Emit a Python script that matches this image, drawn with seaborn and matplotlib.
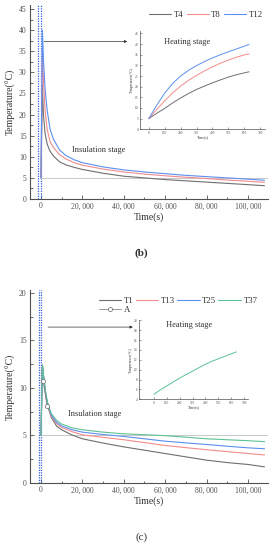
import matplotlib
matplotlib.use("Agg")
import matplotlib.pyplot as plt
import seaborn as sns
from matplotlib.ticker import FuncFormatter, MultipleLocator, FixedLocator
from matplotlib.lines import Line2D

sns.set_theme(style="white")
plt.rcParams['font.family'] = ['Liberation Serif', 'DejaVu Serif']

# ---------------- panel (b) data ----------------
time_b = [0, 700, 1200, 2000, 3000, 4400, 6000, 9000, 12000, 16000, 20000,
          30000, 40000, 50000, 60000, 70000, 80000, 90000, 100000, 108000]
t4 = [5, 27, 20, 15.5, 13, 11.3, 10.2, 8.8, 8.1, 7.5, 7.0,
      6.1, 5.4, 5.0, 4.6, 4.3, 4.0, 3.7, 3.4, 3.15]
t8 = [5, 35.5, 28, 21, 16.5, 13.6, 12.2, 10.5, 9.5, 8.6, 8.0,
      7.1, 6.4, 5.9, 5.5, 5.15, 4.85, 4.5, 4.2, 3.95]
t12 = [5, 40, 33, 26, 21, 16.5, 14.2, 11.6, 10.3, 9.3, 8.6,
       7.6, 6.9, 6.4, 6.0, 5.6, 5.3, 5.0, 4.7, 4.45]
heat_time_b = [0, 50, 100, 150, 200, 250, 300, 350, 400, 450, 500, 550, 600, 630]
heat_t4 = [5, 7.5, 9.8, 12.4, 14.7, 16.8, 18.7, 20.3, 21.8, 23.2, 24.5, 25.6, 26.5, 27.0]
heat_t8 = [5, 9.3, 13.4, 17.1, 20.3, 23.0, 25.3, 27.4, 29.3, 31.0, 32.5, 33.8, 34.9, 35.4]
heat_t12 = [5, 11.3, 17.0, 21.5, 25.0, 27.7, 29.9, 31.8, 33.5, 35.0, 36.4, 37.7, 39.0, 39.8]
labels_b = ["T4", "T8", "T12"]

# ---------------- panel (c) data ----------------
time_c = [0, 700, 1500, 2500, 3500, 5000, 7500, 10000, 15000, 20000, 30000,
          40000, 50000, 60000, 70000, 80000, 90000, 100000, 108000]
t1 = [5, 12.4, 10.6, 8.9, 7.9, 6.9, 6.0, 5.6, 5.05, 4.65, 4.2,
      3.8, 3.45, 3.1, 2.75, 2.4, 2.15, 1.95, 1.7]
t13 = [5, 12.4, 10.7, 9.0, 8.0, 7.05, 6.25, 5.85, 5.4, 5.07, 4.8,
       4.55, 4.25, 3.95, 3.72, 3.5, 3.3, 3.1, 2.95]
t25 = [5, 12.4, 10.7, 9.1, 8.1, 7.15, 6.4, 6.0, 5.6, 5.35, 5.1,
       4.9, 4.65, 4.4, 4.22, 4.05, 3.87, 3.7, 3.6]
t37 = [5, 12.4, 10.8, 9.2, 8.2, 7.3, 6.6, 6.2, 5.8, 5.6, 5.35,
       5.17, 5.08, 4.98, 4.82, 4.65, 4.55, 4.45, 4.35]
a_time = [1000, 3000]
a_vals = [10.7, 8.1]
heat_time_c = [0, 50, 100, 150, 200, 250, 300, 350, 400, 450, 500, 550, 600, 640]
heat_t37 = [5, 5.9, 6.7, 7.5, 8.3, 9.0, 9.7, 10.4, 11.1, 11.7, 12.2, 12.7, 13.2, 13.6]
labels_c = ["T1", "T13", "T25", "T37", "A"]

GRAY = "#6e6e6e"
RED = "#f28b8b"
BLUE = "#5b8ff0"
GREEN = "#5cc194"
DOT = "#2f5fe0"
AX = "#505050"
TXT = "#303030"

fig = plt.figure(figsize=(2.77, 5.5), dpi=100)
fig.patch.set_facecolor("white")


def xfmt(v, pos):
    return f"{int(round(v)):,}".replace(",", ", ")


def style_main(ax, ymax, ymajor):
    for s in ["top", "right"]:
        ax.spines[s].set_visible(False)
    for s in ["left", "bottom"]:
        ax.spines[s].set_color(AX)
        ax.spines[s].set_linewidth(0.8)
    ax.set_xlim(-5300, 109700)
    ax.set_ylim(0, ymax)
    ax.xaxis.set_major_locator(MultipleLocator(20000))
    ax.xaxis.set_minor_locator(MultipleLocator(10000))
    ax.yaxis.set_major_locator(MultipleLocator(ymajor))
    ax.yaxis.set_minor_locator(MultipleLocator(ymajor / 2))
    ax.xaxis.set_major_formatter(FuncFormatter(xfmt))
    ax.tick_params(axis="both", which="both", direction="in", colors=AX,
                   labelcolor="#505050", labelsize=5.5, width=0.6, pad=2.5)
    ax.tick_params(which="major", length=3, bottom=True, left=True)
    ax.tick_params(which="minor", length=1.8, bottom=True, left=True)
    ax.set_facecolor("white")
    ax.grid(False)


def style_inset(ax, xlim, ylim, yticks):
    for s in ["top", "right"]:
        ax.spines[s].set_visible(False)
    for s in ["left", "bottom"]:
        ax.spines[s].set_color(AX)
        ax.spines[s].set_linewidth(0.5)
    ax.set_xlim(*xlim)
    ax.set_ylim(*ylim)
    ax.xaxis.set_major_locator(FixedLocator(list(range(0, 701, 100))))
    ax.yaxis.set_major_locator(FixedLocator(yticks))
    ax.tick_params(axis="both", which="both", direction="in", colors=AX,
                   labelcolor="#505050", labelsize=2.6, width=0.4, length=1.5,
                   pad=1, bottom=True, left=True)
    ax.set_facecolor("white")
    ax.grid(False)


# ================= panel (b) =================
axb = fig.add_axes([30 / 277, 1 - 199 / 550, 238 / 277, 194.2 / 550])
style_main(axb, 46, 5)
for x in (-1400, 100):
    axb.axvline(x, color=DOT, ls=(0, (1, 1)), lw=0.9)
axb.plot([0, 109700], [5, 5], color="#c8c8c8", lw=0.7)
for y, c in [(t4, GRAY), (t8, RED), (t12, BLUE)]:
    sns.lineplot(x=time_b, y=y, ax=axb, color=c, lw=0.8, sort=False,
                 estimator=None)
axb.set_xlabel("Time(s)", fontsize=7, color=TXT, labelpad=1.5)
axb.set_ylabel("Temperature(°C)", fontsize=7, color=TXT, labelpad=2)
axb.annotate("", xy=(41700, 37.3), xytext=(1500, 37.3),
             arrowprops=dict(arrowstyle="-|>", color="#333333", lw=0.5,
                             mutation_scale=4, shrinkA=0, shrinkB=0))
axb.text(15000, 11.6, "Insulation stage", fontsize=6, color=TXT,
         va="center", ha="left")

hb = [Line2D([], [], color=c, lw=0.8) for c in (GRAY, RED, BLUE)]
fig.legend(hb, labels_b, ncol=3, loc="center",
           bbox_to_anchor=(206 / 277, 1 - 15 / 550), frameon=False,
           fontsize=6.3, handlelength=2.5, handletextpad=0.3,
           columnspacing=0.4, borderpad=0, labelcolor=TXT)

insb = fig.add_axes([140 / 277, 1 - 129.3 / 550, 125 / 277, 98 / 550])
style_inset(insb, (-55, 730), (0, 46), list(range(0, 46, 5)))
for y, c in [(heat_t4, GRAY), (heat_t8, RED), (heat_t12, BLUE)]:
    sns.lineplot(x=heat_time_b, y=y, ax=insb, color=c, lw=0.7, sort=False,
                 estimator=None)
insb.set_xlabel("Time(s)", fontsize=2.8, color=TXT, labelpad=0.5)
insb.set_ylabel("Temperature(°C)", fontsize=2.8, color=TXT, labelpad=0.8)
insb.text(94, 40.9, "Heating stage", fontsize=6, color=TXT, va="center")

fig.text(141.7 / 277, 1 - 253 / 550, "(b)", ha="center", va="center",
         fontsize=8, fontweight="bold", color=TXT)

# ================= panel (c) =================
axc = fig.add_axes([30 / 277, 1 - 483 / 550, 238 / 277, 193 / 550])
style_main(axc, 20.3, 5)
for x in (-1000, 100):
    axc.axvline(x, color=DOT, ls=(0, (1, 1)), lw=0.9)
axc.plot([0, 109700], [5, 5], color="#c8c8c8", lw=0.7)
for y, c in [(t1, GRAY), (t13, RED), (t25, BLUE), (t37, GREEN)]:
    sns.lineplot(x=time_c, y=y, ax=axc, color=c, lw=0.8, sort=False,
                 estimator=None)
axc.plot(a_time, a_vals, color="#888888", lw=0.6, marker="o", ms=3,
         mfc="white", mec="#666666", mew=0.5)
axc.set_xlabel("Time(s)", fontsize=7, color=TXT, labelpad=1.5)
axc.set_ylabel("Temperature(°C)", fontsize=7, color=TXT, labelpad=2)
axc.annotate("", xy=(44400, 16.4), xytext=(3400, 16.4),
             arrowprops=dict(arrowstyle="-|>", color="#333333", lw=0.5,
                             mutation_scale=4, shrinkA=0, shrinkB=0))
axc.text(13000, 7.3, "Insulation stage", fontsize=6, color=TXT,
         va="center", ha="left")

hc = [Line2D([], [], color=GRAY, lw=0.8),
      Line2D([], [], color="#888888", lw=0.6, marker="o", ms=3,
             mfc="white", mec="#666666", mew=0.5),
      Line2D([], [], color=RED, lw=0.8),
      Line2D([], [], color=BLUE, lw=0.8),
      Line2D([], [], color=GREEN, lw=0.8)]
lc = [labels_c[0], labels_c[4], labels_c[1], labels_c[2], labels_c[3]]
fig.legend(hc, lc, ncol=4, loc="center",
           bbox_to_anchor=(178 / 277, 1 - 305.5 / 550), frameon=False,
           fontsize=6.3, handlelength=2.6, handletextpad=0.3,
           columnspacing=0.2, borderpad=0, labelspacing=0.2, labelcolor=TXT)

insc = fig.add_axes([139 / 277, 1 - 399.3 / 550, 109 / 277, 79 / 550])
style_inset(insc, (-115, 730), (4, 20), list(range(4, 21, 2)))
sns.lineplot(x=heat_time_c, y=heat_t37, ax=insc, color=GREEN, lw=0.7,
             sort=False, estimator=None)
insc.set_xlabel("Time(s)", fontsize=2.8, color=TXT, labelpad=0.5)
insc.set_ylabel("Temperature(°C)", fontsize=2.8, color=TXT, labelpad=0.8)
insc.text(92, 19, "Heating stage", fontsize=6, color=TXT, va="center")

fig.text(141.5 / 277, 1 - 537 / 550, "(c)", ha="center", va="center",
         fontsize=8, color=TXT)

fig.savefig("out.png", dpi=100, facecolor="white")
